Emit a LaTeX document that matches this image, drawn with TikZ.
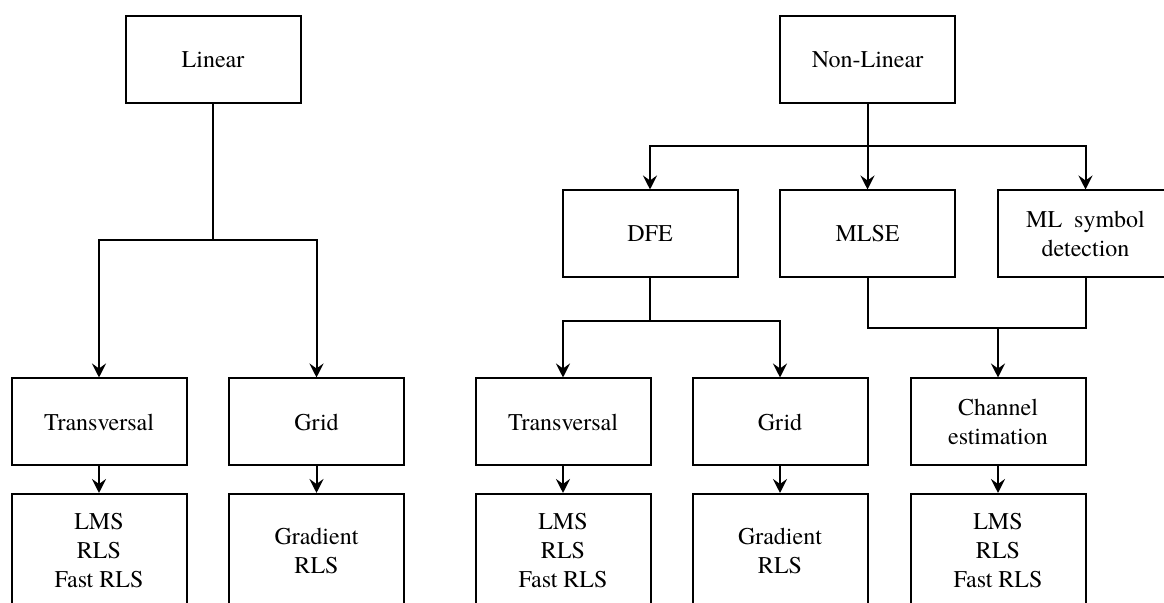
\documentclass[tikz,border=0pt]{standalone}
\usepackage{fontspec}
\setmainfont{TeX Gyre Termes}
\usetikzlibrary{arrows.meta}

\begin{document}
\begin{tikzpicture}[
    x=0.5pt, y=-0.5pt, line width=1pt,
    every node/.style={font=\fontsize{12}{14.5}\selectfont},
    box/.style={draw, minimum width=87.5pt, minimum height=43.5pt, inner sep=0pt, align=center},
    algbox/.style={box, minimum height=57pt},
    arr/.style={-{Stealth[length=7pt, width=7pt, inset=2.5pt]}},
]
    \useasboundingbox (0,0) rectangle (1164,603);
    \clip (0,0) rectangle (1164,603);

    % top level
    \node[box] (lin)    at (213, 59.5)  {Linear};
    \node[box] (nonlin) at (867.5, 59.5) {Non-Linear};

    % second level (non-linear)
    \node[box] (dfe)   at (650, 234)    {DFE};
    \node[box] (mlse)  at (867.5, 234)  {MLSE};
    \node[box] (mlsym) at (1085.5, 234) {ML\ \ symbol\\detection};

    % structures
    \node[box] (tr1) at (99, 422)    {Transversal};
    \node[box] (gr1) at (316.5, 422) {Grid};
    \node[box] (tr2) at (563, 422)   {Transversal};
    \node[box] (gr2) at (780, 422)   {Grid};
    \node[box] (ch)  at (998, 422)   {Channel\\estimation};

    % algorithms
    \node[algbox] (alg1) at (99, 551)    {LMS\\RLS\\Fast RLS};
    \node[algbox] (alg2) at (316.5, 551) {Gradient\\RLS};
    \node[algbox] (alg3) at (563, 551)   {LMS\\RLS\\Fast RLS};
    \node[algbox] (alg4) at (780, 551)   {Gradient\\RLS};
    \node[algbox] (alg5) at (998, 551)   {LMS\\RLS\\Fast RLS};

    % branch points
    \coordinate (linsplit) at (213, 240);
    \coordinate (nlsplit)  at (867.5, 146);
    \coordinate (dfesplit) at (650, 321);
    \coordinate (mlmerge)  at (998, 328);

    \draw (lin.south) -- (linsplit);
    \draw[arr] (linsplit) -| (tr1.north);
    \draw[arr] (linsplit) -| (gr1.north);

    \draw[arr] (nonlin.south) -- (mlse.north);
    \draw[arr] (nlsplit) -| (dfe.north);
    \draw[arr] (nlsplit) -| (mlsym.north);

    \draw (dfe.south) -- (dfesplit);
    \draw[arr] (dfesplit) -| (tr2.north);
    \draw[arr] (dfesplit) -| (gr2.north);

    \draw (mlse.south) |- (mlmerge) -| (mlsym.south);
    \draw[arr] (mlmerge) -- (ch.north);

    \foreach \s/\a in {tr1/alg1, gr1/alg2, tr2/alg3, gr2/alg4, ch/alg5} {
        \draw[arr] (\s.south) -- (\a.north);
    }

\end{tikzpicture}
\end{document}
